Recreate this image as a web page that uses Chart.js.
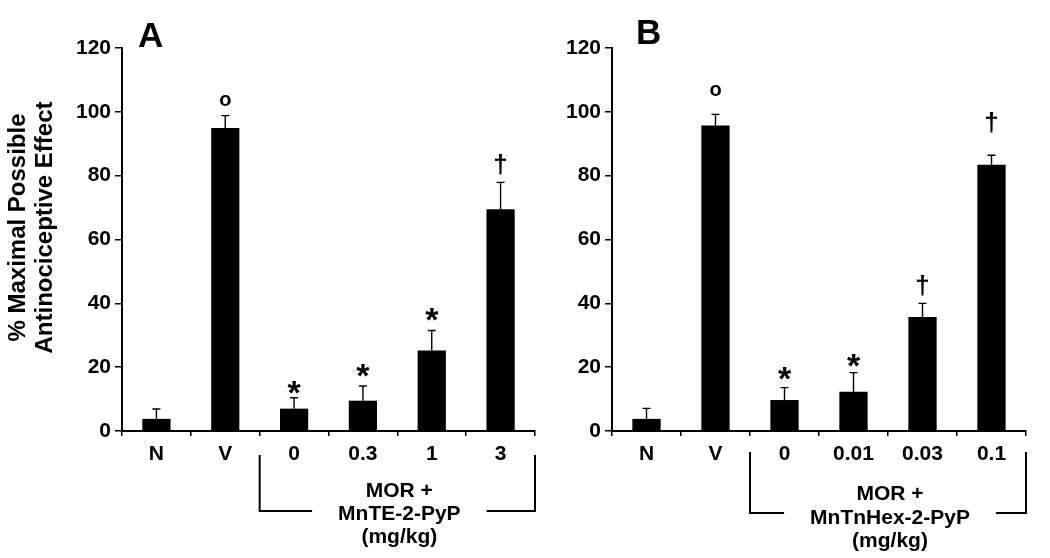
<!DOCTYPE html>
<html lang="en">
<head>
  <meta charset="UTF-8" />
  <title>Antinociceptive effect – MnTE-2-PyP / MnTnHex-2-PyP</title>
  <script src="https://cdn.jsdelivr.net/npm/chart.js"></script>
  <style>
    html, body { margin: 0; padding: 0; background: #fff; }
    #wrap { position: relative; width: 1050px; height: 558px; }
    .panel { position: absolute; top: 0; height: 558px; }
    #panelA { left: 0; width: 545px; }
    #panelB { left: 545px; width: 505px; }
  </style>
</head>
<body>
  <div id="wrap">
    <div class="panel" id="panelA"><canvas id="chartA"></canvas></div>
    <div class="panel" id="panelB"><canvas id="chartB"></canvas></div>
  </div>

  <script>
    // panel A
    const labelsA = ['N', 'V', '0', '0.3', '1', '3'];
    const meansA = [3.8, 94.9, 7.0, 9.5, 25.2, 69.5];
    const semA = [3.1, 3.9, 3.4, 4.6, 6.3, 8.4];
    const marksA = ['', 'o', '*', '*', '*', '†'];
    const markPosA = [null, 103.4, 13.6, 18.8, 36.5, 83.5];
    const bracketA = ['MOR +', 'MnTE-2-PyP', '(mg/kg)'];

    // panel B
    const labelsB = ['N', 'V', '0', '0.01', '0.03', '0.1'];
    const meansB = [3.8, 95.7, 9.7, 12.3, 35.7, 83.4];
    const semB = [3.3, 3.5, 3.9, 6.0, 4.3, 3.0];
    const marksB = ['', 'o', '*', '*', '†', '†'];
    const markPosB = [null, 106.6, 18.0, 22.2, 45.6, 96.8];
    const bracketB = ['MOR +', 'MnTnHex-2-PyP', '(mg/kg)'];

    const yTicks = [0, 20, 40, 60, 80, 100, 120];
    const yTitle = ['% Maximal Possible', 'Antinociceptive Effect'];

    const FONT = "'Liberation Sans', Arial, Helvetica, sans-serif";

    function extrasPlugin(cfg) {
      return {
        id: 'extras',
        afterDatasetsDraw(chart) {
          const ctx = chart.ctx;
          const y = chart.scales.y;
          const meta = chart.getDatasetMeta(0);
          ctx.save();
          ctx.strokeStyle = '#000';
          ctx.fillStyle = '#000';

          // error bars (upper only)
          ctx.lineWidth = 1.4;
          meta.data.forEach((bar, i) => {
            const yTop = y.getPixelForValue(cfg.means[i] + cfg.sem[i]);
            ctx.beginPath();
            ctx.moveTo(bar.x, bar.y);
            ctx.lineTo(bar.x, yTop);
            ctx.moveTo(bar.x - 4, yTop);
            ctx.lineTo(bar.x + 4, yTop);
            ctx.stroke();
          });

          // significance marks
          meta.data.forEach((bar, i) => {
            const m = cfg.marks[i];
            if (!m) return;
            let size = 34;
            if (m === '†') size = 26;
            if (m === 'o') size = 20;
            ctx.font = 'bold ' + size + 'px ' + FONT;
            ctx.textAlign = 'center';
            ctx.textBaseline = 'alphabetic';
            const tm = ctx.measureText(m);
            const yc = y.getPixelForValue(cfg.markPos[i]);
            const base = yc + (tm.actualBoundingBoxAscent - tm.actualBoundingBoxDescent) / 2;
            ctx.fillText(m, bar.x, base);
          });
          ctx.restore();
        },
        afterDraw(chart) {
          const ctx = chart.ctx;
          const x = chart.scales.x;
          ctx.save();
          ctx.fillStyle = '#000';
          ctx.strokeStyle = '#000';

          // panel letter
          ctx.font = 'bold 35px ' + FONT;
          ctx.textAlign = 'left';
          ctx.textBaseline = 'alphabetic';
          ctx.fillText(cfg.letter, chart.chartArea.left + cfg.letterDx, cfg.letterY);

          // y axis title (panel A only)
          if (cfg.showTitle) {
            ctx.font = 'bold 24px ' + FONT;
            ctx.textAlign = 'center';
            [25, 52].forEach((bx, k) => {
              ctx.save();
              ctx.translate(bx, 227.5);
              ctx.rotate(-Math.PI / 2);
              ctx.fillText(yTitle[k], 0, 0);
              ctx.restore();
            });
          }

          // bracket under the MOR + drug groups
          const xl = x.getPixelForValue(1.5);
          const xr = x.getPixelForValue(x.max + 0.5);
          const xc = (xl + xr) / 2 + 2;
          ctx.font = 'bold 21px ' + FONT;
          ctx.textAlign = 'center';
          cfg.bracket.forEach((t, k) => ctx.fillText(t, xc, cfg.textBase[k]));
          const w = ctx.measureText(cfg.bracket[1]).width;
          ctx.lineWidth = 2;
          ctx.beginPath();
          ctx.moveTo(xl, cfg.brTop);
          ctx.lineTo(xl, cfg.brBot);
          ctx.lineTo(xc - w / 2 - 26, cfg.brBot);
          ctx.moveTo(xc + w / 2 + 26, cfg.brBot);
          ctx.lineTo(xr, cfg.brBot);
          ctx.lineTo(xr, cfg.brTop);
          ctx.stroke();
          ctx.restore();
        }
      };
    }

    function makeChart(id, cfg) {
      const ctx = document.getElementById(id).getContext('2d');
      return new Chart(ctx, {
        type: 'bar',
        data: {
          labels: cfg.labels,
          datasets: [{
            data: cfg.means,
            backgroundColor: '#000',
            borderWidth: 0,
            barPercentage: 0.41,
            categoryPercentage: 1.0
          }]
        },
        options: {
          responsive: true,
          maintainAspectRatio: false,
          animation: false,
          layout: { padding: { left: 0, right: cfg.padRight, top: 48, bottom: 0 } },
          plugins: { legend: { display: false }, tooltip: { enabled: false } },
          scales: {
            x: {
              offset: true,
              grid: { offset: true, drawOnChartArea: false, drawTicks: true, tickLength: 5, color: '#000', lineWidth: 1.5 },
              border: { color: '#000', width: 2 },
              ticks: { color: '#000', font: { family: FONT, size: 21, weight: 'bold' }, padding: 6, maxRotation: 0, autoSkip: false },
              afterFit: s => { s.height = 127; }
            },
            y: {
              min: 0,
              max: 120,
              afterBuildTicks: s => { s.ticks = yTicks.map(v => ({ value: v })); },
              grid: { drawOnChartArea: false, drawTicks: true, tickLength: 7, color: '#000', lineWidth: 1.5 },
              border: { color: '#000', width: 2 },
              ticks: { color: '#000', font: { family: FONT, size: 21, weight: 'bold' }, padding: 4 },
              afterFit: s => { s.width = cfg.yWidth; }
            }
          }
        },
        plugins: [extrasPlugin(cfg)]
      });
    }

    makeChart('chartA', {
      labels: labelsA, means: meansA, sem: semA, marks: marksA, markPos: markPosA,
      bracket: bracketA, letter: 'A', letterDx: 16, letterY: 47, showTitle: true,
      yWidth: 122, padRight: 10, brTop: 455, brBot: 511, textBase: [497, 520, 543]
    });
    makeChart('chartB', {
      labels: labelsB, means: meansB, sem: semB, marks: marksB, markPos: markPosB,
      bracket: bracketB, letter: 'B', letterDx: 24, letterY: 44, showTitle: false,
      yWidth: 67, padRight: 24, brTop: 452, brBot: 513, textBase: [500, 524, 547]
    });
  </script>
</body>
</html>
